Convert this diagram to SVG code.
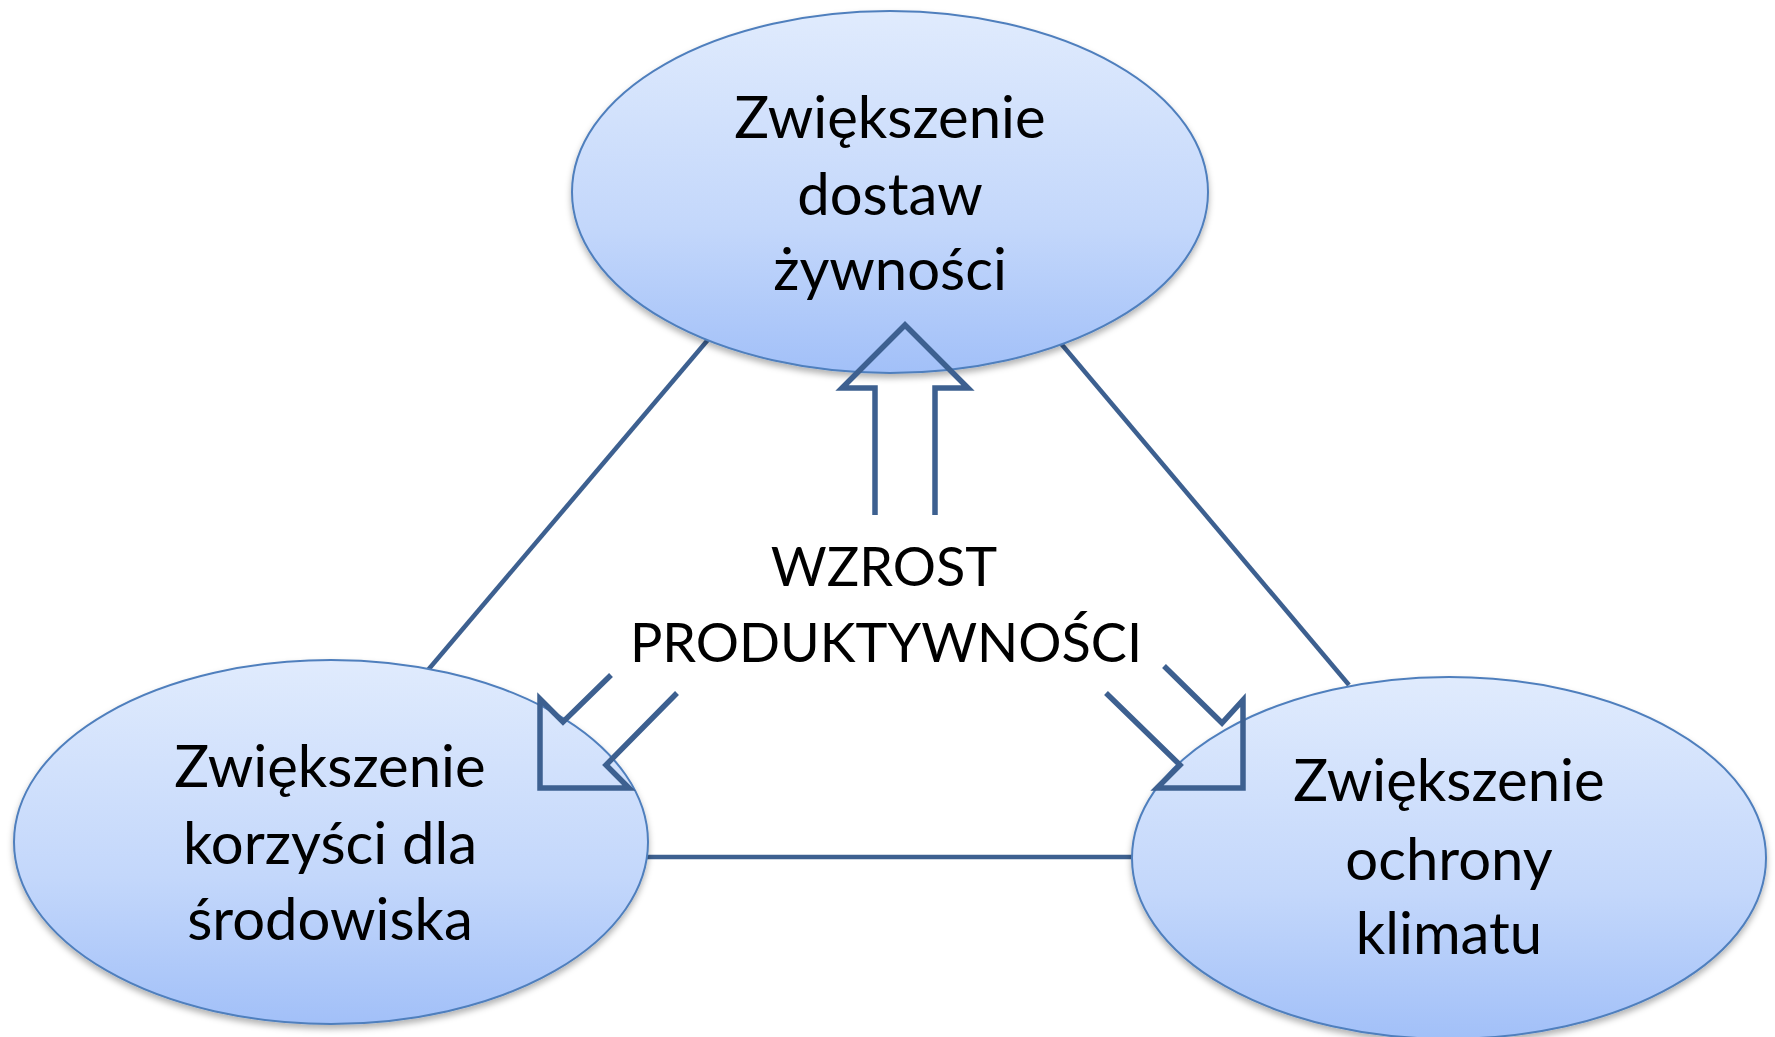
<svg xmlns="http://www.w3.org/2000/svg" width="1775" height="1037" viewBox="0 0 1775 1037">
<defs>
<linearGradient id="g" x1="0" y1="0" x2="0" y2="1">
<stop offset="0" stop-color="#e0ebfd"/>
<stop offset="0.6" stop-color="#c3d7fb"/>
<stop offset="1" stop-color="#a2c0f8"/>
</linearGradient>
<filter id="sh" x="-10%" y="-10%" width="120%" height="125%">
<feDropShadow dx="0" dy="4" stdDeviation="3" flood-color="#000" flood-opacity="0.3"/>
</filter>
</defs>
<style>
.ell{fill:url(#g);stroke:#4f7fbd;stroke-width:2;filter:url(#sh)}
.con{stroke:#3d6090;stroke-width:4.5;fill:none}
.arr{stroke:#3d6090;stroke-width:5.5;fill:none;stroke-linejoin:miter}
.t{font-family:Lato,"Noto Sans",sans-serif;font-size:58px;fill:#000;text-anchor:middle}
.c{font-size:54px}
</style>
<g id="connectors">
<line class="con" x1="712" y1="335" x2="428" y2="670"/>
<line class="con" x1="1058" y1="340" x2="1349" y2="685"/>
<line class="con" x1="640" y1="857" x2="1140" y2="857"/>
</g>
<g id="node-food">
<ellipse class="ell" cx="890" cy="192" rx="318" ry="181"/>
<text class="t" x="890" y="138">Zwiększenie</text>
<text class="t" x="890" y="215">dostaw</text>
<text class="t" x="890" y="290">żywności</text>
</g>
<g id="node-env">
<ellipse class="ell" cx="331" cy="842" rx="317" ry="182"/>
<text class="t" x="330" y="787">Zwiększenie</text>
<text class="t" x="330" y="864">korzyści dla</text>
<text class="t" x="330" y="940">środowiska</text>
</g>
<g id="node-climate">
<ellipse class="ell" cx="1449" cy="858" rx="317" ry="181"/>
<text class="t" x="1449" y="801">Zwiększenie</text>
<text class="t" x="1449" y="880">ochrony</text>
<text class="t" x="1449" y="954">klimatu</text>
</g>
<g id="arrows">
<polyline class="arr" points="875,515 875,388 842,388 905,325 968,388 935,388 935,515"/>
<polyline class="arr" points="611,675 563,722 540,699 540,788 629,788 606,765 677,693"/>
<polyline class="arr" points="1164,666 1222,723 1243,700 1243,788 1157,788 1180,765 1106,693"/>
</g>
<g id="node-center">
<text class="t c" x="884" y="586">WZROST</text>
<text class="t c" x="886" y="662">PRODUKTYWNOŚCI</text>
</g>
</svg>
